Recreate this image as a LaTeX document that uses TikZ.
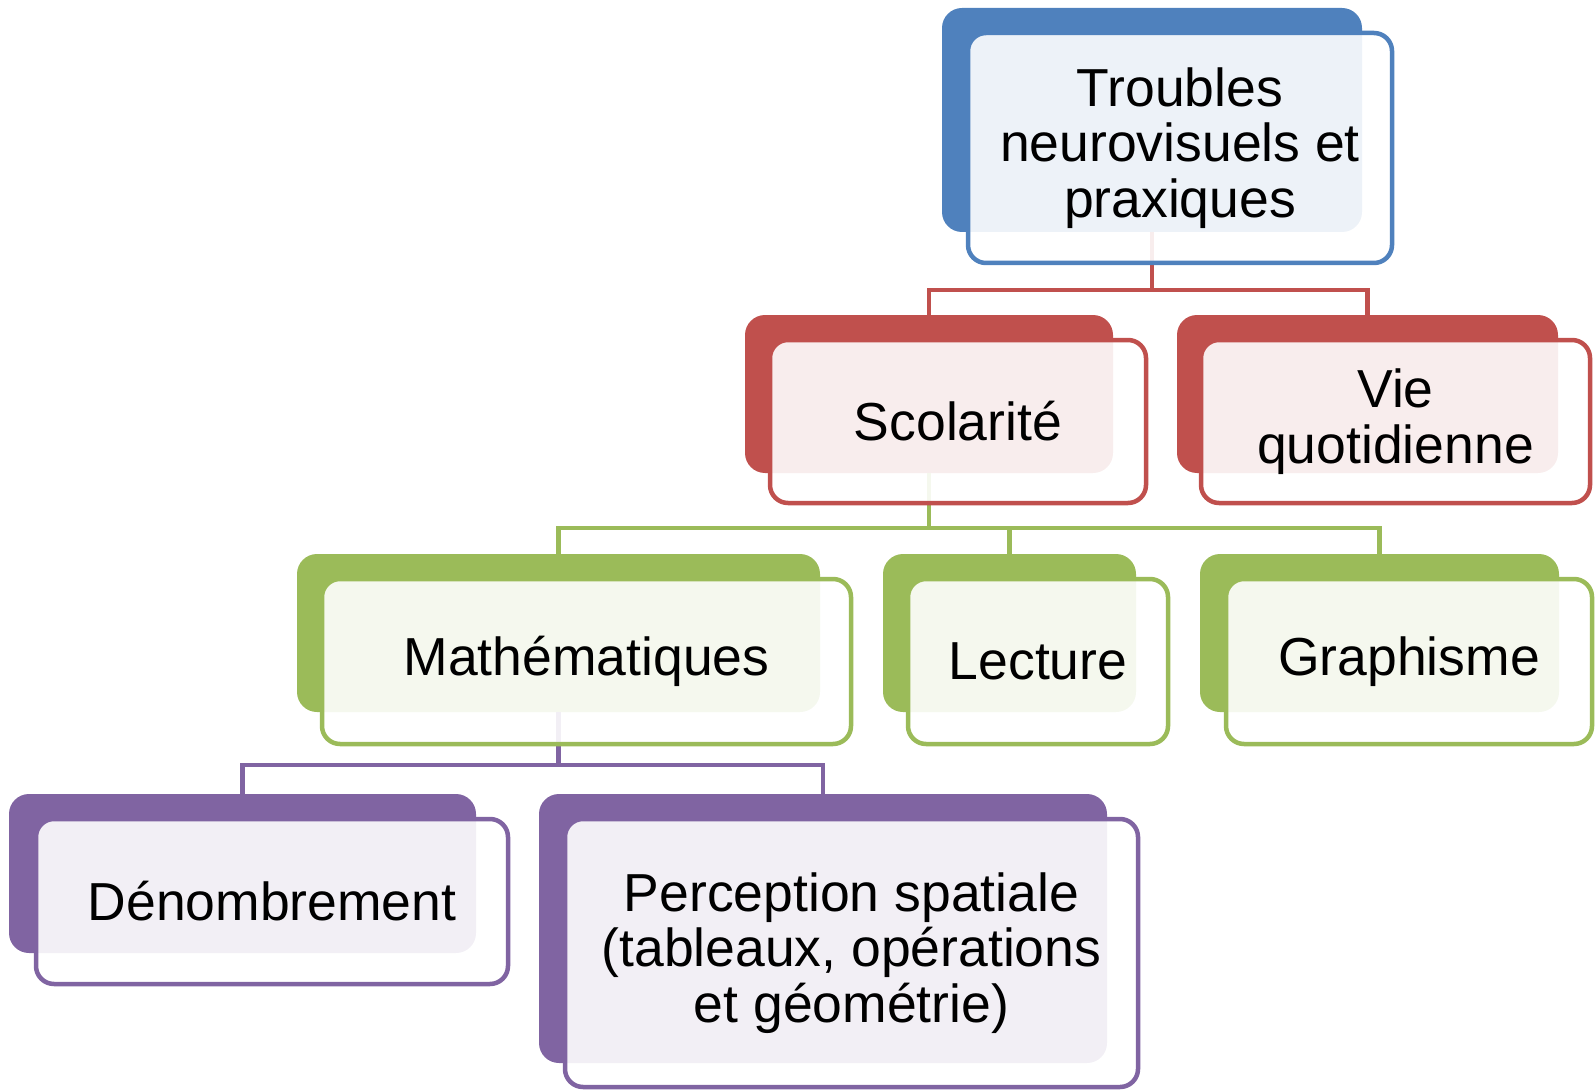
\documentclass[tikz,border=0pt]{standalone}
\usepackage{fontspec}
\setmainfont{Liberation Sans}
\usetikzlibrary{positioning}

\definecolor{lvlblue}{HTML}{4F81BD}
\definecolor{lvlred}{HTML}{C0504D}
\definecolor{lvlgreen}{HTML}{9BBB59}
\definecolor{lvlpurple}{HTML}{8064A2}

\begin{document}
\begin{tikzpicture}[
      x=1pt, y=-1pt,
      back/.style={fill=#1, rounded corners=20pt, inner sep=0pt},
      front/.style={draw=#1, line width=4.5pt, rounded corners=18pt, fill=white,
        fill opacity=0.9, text opacity=1, align=center, inner sep=0pt,
        font=\fontsize{53.5}{55.5}\selectfont},
      link/.style={draw=#1, line width=4.5pt}
    ]
    \useasboundingbox (0,0) rectangle (1595,1091);
    % coloured back plates
    \node[back=lvlblue, minimum width=420pt, minimum height=224pt] (topb) at (1152,120) {};
    \node[back=lvlred, minimum width=368pt, minimum height=158pt] (scolb) at (929,394) {};
    \node[back=lvlred, minimum width=381pt, minimum height=158pt] (vieb) at (1367.5,394) {};
    \node[back=lvlgreen, minimum width=523pt, minimum height=158pt] (mathb) at (558.5,633) {};
    \node[back=lvlgreen, minimum width=253pt, minimum height=158pt] (lectb) at (1009.5,633) {};
    \node[back=lvlgreen, minimum width=359pt, minimum height=158pt] (graphb) at (1379.5,633) {};
    \node[back=lvlpurple, minimum width=467pt, minimum height=159pt] (denb) at (242.5,873.5) {};
    \node[back=lvlpurple, minimum width=568pt, minimum height=269pt] (percb) at (823,928.5) {};
    % connectors
    \draw[link=lvlred] (topb.south) -- ++(0,58) -| (scolb.north);
    \draw[link=lvlred] (topb.south) -- ++(0,58) -| (vieb.north);
    \draw[link=lvlgreen] (scolb.south) -- ++(0,55) -| (mathb.north);
    \draw[link=lvlgreen] (scolb.south) -- ++(0,55) -| (lectb.north);
    \draw[link=lvlgreen] (scolb.south) -- ++(0,55) -| (graphb.north);
    \draw[link=lvlpurple] (mathb.south) -- ++(0,53) -| (denb.north);
    \draw[link=lvlpurple] (mathb.south) -- ++(0,53) -| (percb.north);
    % text boxes
    \node[front=lvlblue, minimum width=424pt, minimum height=230pt] (top) at (1180,148) {Troubles\\neurovisuels et\\praxiques};
    \node[front=lvlred, minimum width=376pt, minimum height=163pt] (scol) at (958,421.5) {Scolarité};
    \node[front=lvlred, minimum width=389pt, minimum height=163pt] (vie) at (1395.5,421.5) {Vie\\quotidienne};
    \node[front=lvlgreen, minimum width=529pt, minimum height=165pt] (math) at (586.5,661.5) {Mathématiques};
    \node[front=lvlgreen, minimum width=260pt, minimum height=165pt] (lect) at (1038,661.5) {Lecture};
    \node[front=lvlgreen, minimum width=366pt, minimum height=165pt] (graph) at (1409,661.5) {Graphisme};
    \node[front=lvlpurple, minimum width=472pt, minimum height=165pt] (den) at (272,901.5) {Dénombrement};
    \node[front=lvlpurple, minimum width=573pt, minimum height=268pt] (perc) at (851.5,953) {Perception spatiale\\(tableaux, opérations\\et géométrie)};
  \end{tikzpicture}
\end{document}
